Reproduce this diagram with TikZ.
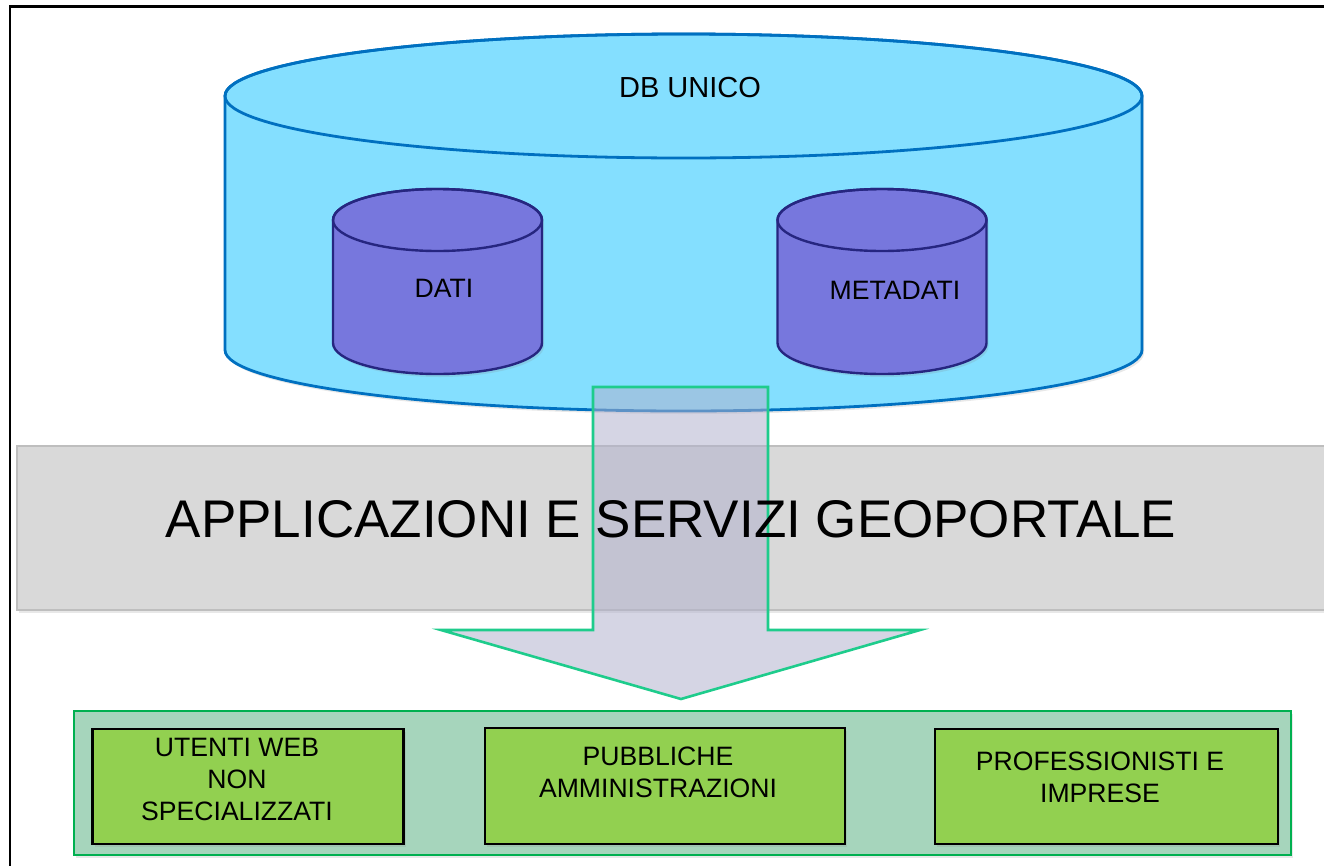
\documentclass[tikz,border=0pt]{standalone}
\usepackage{fontspec}
\setmainfont{Liberation Sans}
\usetikzlibrary{shadows}
\definecolor{cylfill}{RGB}{132,223,255}
\definecolor{cylline}{RGB}{0,112,192}
\definecolor{smfill}{RGB}{119,119,221}
\definecolor{smline}{RGB}{38,38,128}
\definecolor{bandfill}{RGB}{217,217,217}
\definecolor{bandline}{RGB}{190,190,190}
\definecolor{arrfill}{RGB}{177,177,204}
\definecolor{arrline}{RGB}{30,204,140}
\definecolor{contfill}{RGB}{166,213,188}
\definecolor{contline}{RGB}{0,176,80}
\definecolor{boxfill}{RGB}{146,208,80}
\tikzset{
  shd/.style={drop shadow={opacity=0.18,shadow xshift=2pt,shadow yshift=-3pt}},
  bigcyl/.style={fill=cylfill,draw=cylline,line width=2.8pt},
  smallcyl/.style={fill=smfill,draw=smline,line width=2.4pt},
  usrbox/.style={rectangle,draw=black,line width=2.4pt,fill=boxfill,inner sep=0pt,shd},
  lbl/.style={align=center,inner sep=0pt,font=\fontsize{26.6}{32}\selectfont},
  cyltxt/.style={inner sep=0pt,font=\fontsize{26.6}{32}\selectfont}
}
\begin{document}
\begin{tikzpicture}[x=1pt,y=1pt]
\useasboundingbox (0,0) rectangle (1324,-865);
\clip (0,0) rectangle (1324,-865);
\fill[white] (0,0) rectangle (1324,-865);
% outer frame
\draw[line width=2.8pt,black] (10,-880) -- (10,-6.5) -- (1340,-6.5);
% big cylinder
\path[bigcyl,shd] (225,-96) -- (225,-350) arc[start angle=180,end angle=360,x radius=458.5pt,y radius=61pt] -- (1142,-96) arc[start angle=0,end angle=180,x radius=458.5pt,y radius=62pt] -- cycle;
\draw[cylline,line width=2.8pt] (683.5,-96) ellipse[x radius=458.5pt,y radius=62pt];
\node[cyltxt,font=\fontsize{29}{32}\selectfont] (db) at (690,-88) {DB UNICO};
% small cylinders
\foreach \cx in {437.5,882}{
  \path[smallcyl,shd] (\cx-104.5,-220) -- (\cx-104.5,-343) arc[start angle=180,end angle=360,x radius=104.5pt,y radius=31pt] -- (\cx+104.5,-220) arc[start angle=0,end angle=180,x radius=104.5pt,y radius=31pt] -- cycle;
  \draw[smline,line width=2.4pt] (\cx,-220) ellipse[x radius=104.5pt,y radius=31pt];
}
\node[cyltxt] (dati) at (444,-288) {DATI};
\node[cyltxt] (meta) at (895,-290) {METADATI};
% grey band
\path[fill=bandfill,draw=bandline,line width=1.8pt,shd] (17,-446) rectangle (1340,-610);
% arrow
\path[fill=arrfill,fill opacity=0.53,draw=arrline,line width=2.6pt,line join=miter]
  (593,-387) -- (768,-387) -- (768,-630) -- (920,-630) -- (681,-699) -- (441,-630) -- (593,-630) -- cycle;
\node[inner sep=0pt,font=\fontsize{53}{60}\selectfont] (app) at (671,-519) {APPLICAZIONI E SERVIZI GEOPORTALE};
% green container
\node[rectangle,fill=contfill,draw=contline,line width=2.4pt,minimum width=1217pt,minimum height=144pt,inner sep=0pt,shd] (cont) at (682.5,-783) {};
% boxes
\node[usrbox,minimum width=311pt,minimum height=115pt] (b1) at (248,-786.5) {};
\node[usrbox,minimum width=360pt,minimum height=116pt] (b2) at (665,-786) {};
\node[usrbox,minimum width=343pt,minimum height=115pt] (b3) at (1106.5,-786.5) {};
\node[lbl] (t1) at (237,-779) {UTENTI WEB\\NON\\SPECIALIZZATI};
\node[lbl] (t2) at (658,-772) {PUBBLICHE\\AMMINISTRAZIONI};
\node[lbl] (t3) at (1100,-777) {PROFESSIONISTI E\\IMPRESE};
\end{tikzpicture}
\end{document}
